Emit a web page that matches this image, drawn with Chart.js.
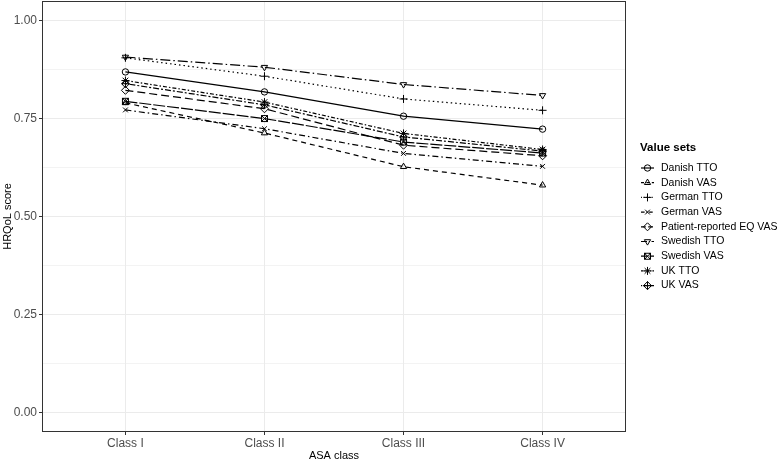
<!DOCTYPE html>
<html>
<head>
<meta charset="utf-8">
<script src="https://cdn.jsdelivr.net/npm/chart.js@4"></script>
<style>
  html, body { margin: 0; padding: 0; background: #fff; }
  #wrap { width: 778px; height: 461px; position: relative; }
</style>
</head>
<body>
<div id="wrap"><canvas id="chart"></canvas></div>
<script>
// --- data ---
const classes = ['Class I', 'Class II', 'Class III', 'Class IV'];
const seriesNames = ['Danish TTO', 'Danish VAS', 'German TTO', 'German VAS',
  'Patient-reported EQ VAS', 'Swedish TTO', 'Swedish VAS', 'UK TTO', 'UK VAS'];

const danishTTO  = [0.869, 0.818, 0.756, 0.723];
const danishVAS  = [0.790, 0.713, 0.627, 0.580];
const germanTTO  = [0.905, 0.858, 0.800, 0.771];
const germanVAS  = [0.772, 0.724, 0.661, 0.628];
const patientVAS = [0.822, 0.775, 0.682, 0.655];
const swedishTTO = [0.907, 0.881, 0.837, 0.809];
const swedishVAS = [0.794, 0.750, 0.690, 0.662];
const ukTTO      = [0.847, 0.792, 0.712, 0.671];
const ukVAS      = [0.839, 0.785, 0.703, 0.667];

const yTicks  = [0, 0.25, 0.5, 0.75, 1];
const yLabels = ['0.00', '0.25', '0.50', '0.75', '1.00'];

// --- custom point shapes (ggplot shapes 7 and 9) ---
function makeShape(draw) {
  const c = document.createElement('canvas');
  c.width = 9; c.height = 9;
  const g = c.getContext('2d');
  g.strokeStyle = '#000';
  g.lineWidth = 1;
  draw(g);
  return c;
}
const squareCross = makeShape(g => {
  g.strokeRect(1.5, 1.5, 6, 6);
  g.beginPath();
  g.moveTo(1.5, 1.5); g.lineTo(7.5, 7.5);
  g.moveTo(7.5, 1.5); g.lineTo(1.5, 7.5);
  g.stroke();
});
const diamondPlus = makeShape(g => {
  g.beginPath();
  g.moveTo(4.5, 0.5); g.lineTo(8.5, 4.5); g.lineTo(4.5, 8.5); g.lineTo(0.5, 4.5); g.closePath();
  g.moveTo(4.5, 0.5); g.lineTo(4.5, 8.5);
  g.moveTo(0.5, 4.5); g.lineTo(8.5, 4.5);
  g.stroke();
});

const values = [danishTTO, danishVAS, germanTTO, germanVAS, patientVAS, swedishTTO, swedishVAS, ukTTO, ukVAS];
const shapes = ['circle', 'triangle', 'cross', 'crossRot', 'rectRot', 'triangle', squareCross, 'star', diamondPlus];
const rotations = [0, 0, 0, 0, 0, 180, 0, 0, 0];
const dashes = [[], [5, 4], [1.5, 3], [6, 3, 1.5, 3], [8, 4], [10, 3, 1.5, 3], [12, 2], [4, 2, 1.5, 2], [2, 2, 6, 2]];
const radii = [3.2, 3.6, 4, 3.4, 4, 3.6, 4, 4, 4];

const datasets = seriesNames.map((name, i) => ({
  label: name,
  data: values[i].map((v, k) => ({ x: k + 1, y: v })),
  borderColor: '#000',
  borderWidth: 1.2,
  borderDash: dashes[i],
  pointStyle: shapes[i],
  rotation: rotations[i],
  pointRadius: radii[i],
  pointBorderColor: '#000',
  pointBorderWidth: 1,
  pointBackgroundColor: 'rgba(0,0,0,0)',
  tension: 0,
  fill: false
}));

// panel border + legend
const panelAndLegend = {
  id: 'panelAndLegend',
  afterDatasetsDraw(chart) {
    const ctx = chart.ctx, a = chart.chartArea;
    ctx.save();
    ctx.strokeStyle = '#333333';
    ctx.lineWidth = 1;
    ctx.strokeRect(Math.round(a.left) + 0.5, Math.round(a.top) + 0.5,
      Math.round(a.right - a.left) - 1, Math.round(a.bottom - a.top) - 1);

    // legend
    ctx.fillStyle = '#000';
    ctx.font = 'bold 11.5px "Liberation Sans", Arial, sans-serif';
    ctx.textBaseline = 'middle';
    ctx.fillText('Value sets', 640, 148);
    ctx.font = '10.5px "Liberation Sans", Arial, sans-serif';
    seriesNames.forEach((name, i) => {
      const y = 168 + i * 14.7;
      ctx.strokeStyle = '#000';
      ctx.lineWidth = 1.2;
      ctx.setLineDash(dashes[i].map(d => d * 0.6));
      ctx.beginPath();
      ctx.moveTo(641, y); ctx.lineTo(654, y);
      ctx.stroke();
      ctx.setLineDash([]);
      ctx.lineWidth = 1;
      ctx.fillStyle = 'rgba(0,0,0,0)';
      Chart.helpers.drawPoint(ctx, {
        pointStyle: shapes[i], rotation: rotations[i], radius: radii[i], borderWidth: 1
      }, 647.5, y);
      ctx.fillStyle = '#000';
      ctx.fillText(name, 661, y);
    });
    ctx.restore();
  }
};

const tickFont = { family: '"Liberation Sans", Arial, sans-serif', size: 12 };
const titleFont = { family: '"Liberation Sans", Arial, sans-serif', size: 11 };

new Chart(document.getElementById('chart'), {
  type: 'line',
  data: { datasets },
  options: {
    responsive: true,
    maintainAspectRatio: false,
    animation: false,
    layout: { autoPadding: false, padding: { left: 0, right: 152, top: 1, bottom: 0 } },
    plugins: { legend: { display: false }, tooltip: { enabled: false } },
    scales: {
      x: {
        type: 'linear',
        min: 0.4,
        max: 4.6,
        afterBuildTicks: s => { s.ticks = classes.map((c, k) => ({ value: k + 1 })); },
        afterFit: s => { s.height = 29; s.paddingLeft = 0; s.paddingRight = 0; },
        ticks: {
          callback: v => classes[v - 1],
          color: '#4d4d4d',
          font: tickFont,
          padding: 1,
          maxRotation: 0,
          autoSkip: false
        },
        grid: { color: '#ebebeb', lineWidth: 1, tickColor: '#333333', tickLength: 3 },
        border: { display: false },
        title: { display: true, text: 'ASA class', color: '#000', font: titleFont, padding: { top: 0, bottom: -2 } }
      },
      y: {
        type: 'linear',
        min: -0.05,
        max: 1.05,
        afterBuildTicks: s => {
          const t = [];
          yTicks.forEach((v, k) => {
            t.push({ value: v });
            if (k < yTicks.length - 1) t.push({ value: (v + yTicks[k + 1]) / 2 });
          });
          s.ticks = t;
        },
        afterFit: s => { s.width = 42; s.paddingTop = 0; s.paddingBottom = 0; },
        ticks: {
          callback: v => { const k = yTicks.indexOf(v); return k >= 0 ? yLabels[k] : ''; },
          color: '#4d4d4d',
          font: tickFont,
          padding: 2,
          autoSkip: false
        },
        grid: {
          color: '#ebebeb',
          lineWidth: c => (yTicks.indexOf(c.tick && c.tick.value) >= 0 ? 1 : 0.6),
          tickColor: c => (yTicks.indexOf(c.tick && c.tick.value) >= 0 ? '#333333' : 'rgba(0,0,0,0)'),
          tickLength: 3
        },
        border: { display: false },
        title: { display: true, text: 'HRQoL score', color: '#000', font: titleFont, padding: { top: 1, bottom: 0 } }
      }
    }
  },
  plugins: [panelAndLegend]
});
</script>
</body>
</html>
